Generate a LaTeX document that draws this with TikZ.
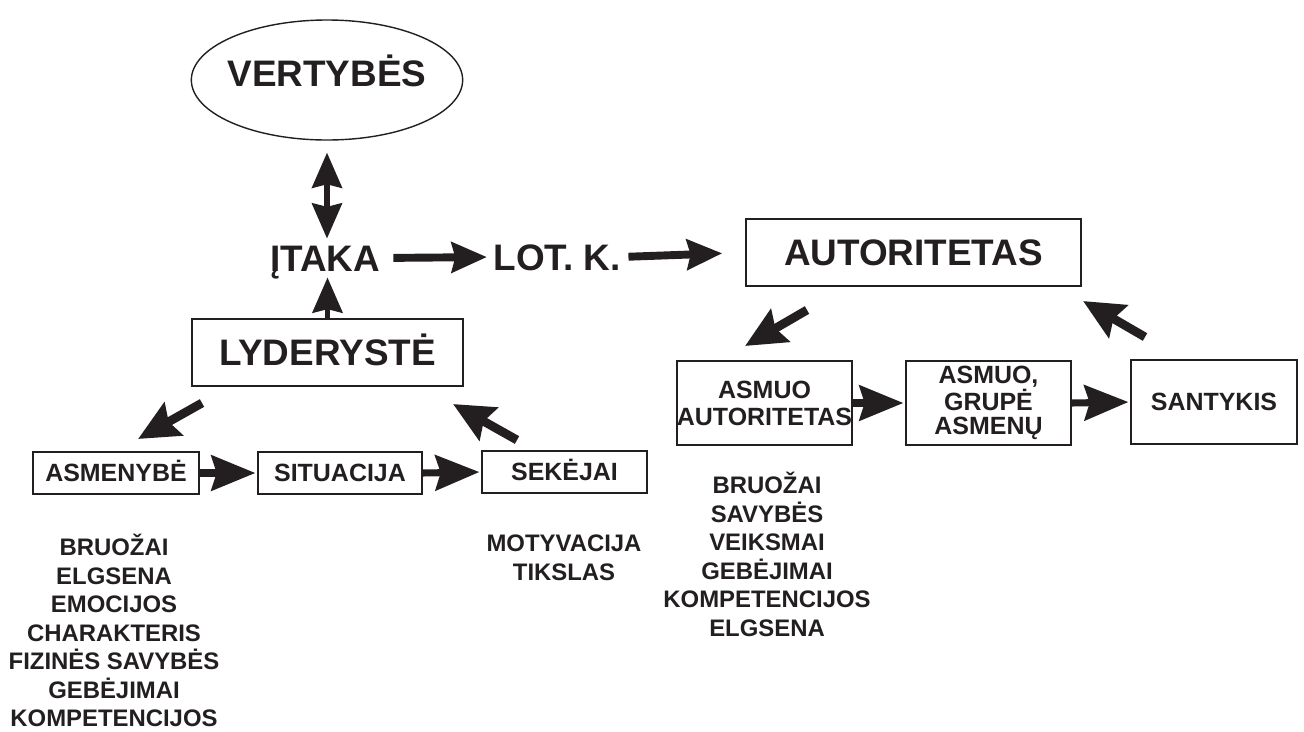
\documentclass[tikz,border=0pt]{standalone}
\usepackage{fontspec}
\setmainfont{Liberation Sans}
\usetikzlibrary{arrows.meta,shapes.geometric,positioning,calc}
\definecolor{ink}{HTML}{231F20}
\newcommand{\px}{0.02cm}
\tikzstyle{every node}+=[text=ink,inner sep=0pt]
\tikzstyle{big}=[font=\fontsize{21}{24}\selectfont\bfseries,text height=15pt,text depth=0pt]
\tikzstyle{small}=[font=\fontsize{14.2}{15.3}\selectfont\bfseries,align=center]
\tikzstyle{item}=[font=\fontsize{13.6}{16}\selectfont\bfseries,text height=9.7pt,text depth=0pt]
\tikzstyle{box}=[draw=ink,line width=1pt]
\tikzstyle{arr}=[ink,line width=4.5pt,-{Stealth[length=20pt,width=17pt,inset=2pt]}]
\tikzstyle{dbl arr}=[ink,line width=3pt,{Stealth[length=20pt,width=17pt,inset=2pt]}-{Stealth[length=20pt,width=17pt,inset=2pt]}]
\tikzstyle{thin arr}=[ink,line width=3pt,-{Stealth[length=20pt,width=17pt,inset=2pt]}]
\tikzstyle{row arr}=[ink,line width=4pt,-{Stealth[length=25pt,width=20pt,inset=3pt]}]
\tikzstyle{diag}=[ink,line width=5pt,-{Stealth[length=23pt,width=21pt,inset=3pt]}]
\newcommand{\drawarrows}[2][]{
	\foreach \a/\b in {#2}{
		\draw[#1] (\a) -- (\b);
	}
}

\begin{document}
\begin{tikzpicture}[x=0.02cm,y=-0.02cm]
\useasboundingbox (0,0) rectangle (1304,731);

% top
\node[ellipse,draw=ink,line width=0.8pt,inner xsep=-2pt,minimum width=270*\px,minimum height=120*\px,big,text depth=8pt] (vert) at (327,80) {VERTYBĖS};
\node[big] (itaka) at (325,258) {ĮTAKA};
\node[big] (lotk) at (557,257) {LOT. K.};
\node[box,big,minimum width=335*\px,minimum height=67*\px] (aut) at (913.5,252.5) {AUTORITETAS};
\node[box,big,minimum width=271*\px,minimum height=67*\px] (lyd) at (327.5,352.5) {LYDERYSTĖ};

\draw[dbl arr,shorten <=6.8pt,shorten >=3.4pt] (vert.south) -- (vert.south |- itaka.north);
\draw[thin arr,shorten >=3.4pt] (lyd.north) -- (lyd.north |- itaka.south);
\draw[arr,shorten <=7.4pt,shorten >=3.5pt] (itaka.east) -- (lotk.west);
\draw[arr,shorten <=4.3pt,shorten >=13pt] (lotk.east) -- (aut.west);

% lyderyste
\node[box,small,text height=10pt,text depth=0pt,minimum width=166*\px,minimum height=42*\px] (asm) at (116,473) {ASMENYBĖ};
\node[box,small,text height=10pt,text depth=0pt,minimum width=164*\px,minimum height=42*\px] (sit) at (340,473) {SITUACIJA};
\node[box,small,text height=10pt,text depth=0pt,minimum width=165*\px,minimum height=42*\px] (sek) at (564.5,472) {SEKĖJAI};
\drawarrows[row arr,shorten >=1pt]{asm.east/sit.west,sit.east/sek.west}

\coordinate (d1) at (202,403);
\coordinate (d2) at (138,439);
\coordinate (d3) at (517,440);
\coordinate (d4) at (453,404);
\drawarrows[diag]{d1/d2,d3/d4}

\foreach \w [count=\i] in {BRUOŽAI,ELGSENA,EMOCIJOS,CHARAKTERIS,FIZINĖS SAVYBĖS,GEBĖJIMAI,KOMPETENCIJOS}
	\node[item] (asm\i) at (114,{547+28.5*(\i-1)}) {\w};
\foreach \w [count=\i] in {MOTYVACIJA,TIKSLAS}
	\node[item] (sek\i) at (564,{543+29*(\i-1)}) {\w};

% autoritetas
\node[box,small,minimum width=169*\px,minimum height=84*\px] (a1) at (764.5,403) {ASMUO\\AUTORITETAS};
\node[box,small,font=\fontsize{14.2}{13.4}\selectfont\bfseries,minimum width=165*\px,minimum height=84*\px] (a2) at (988.5,403) {ASMUO,\\GRUPĖ\\ASMENŲ};
\node[box,small,text height=10pt,text depth=0pt,minimum width=166*\px,minimum height=84*\px] (san) at (1214,402) {SANTYKIS};
\drawarrows[row arr,shorten >=1pt]{a1.east/a2.west,a2.east/san.west}

\coordinate (d5) at (807,310);
\coordinate (d6) at (745,346);
\coordinate (d7) at (1145,337);
\coordinate (d8) at (1083,301);
\drawarrows[diag]{d5/d6,d7/d8}

\foreach \w [count=\i] in {BRUOŽAI,SAVYBĖS,VEIKSMAI,GEBĖJIMAI,KOMPETENCIJOS,ELGSENA}
	\node[item] (a1\i) at (767,{485+28.6*(\i-1)}) {\w};

\end{tikzpicture}
\end{document}
